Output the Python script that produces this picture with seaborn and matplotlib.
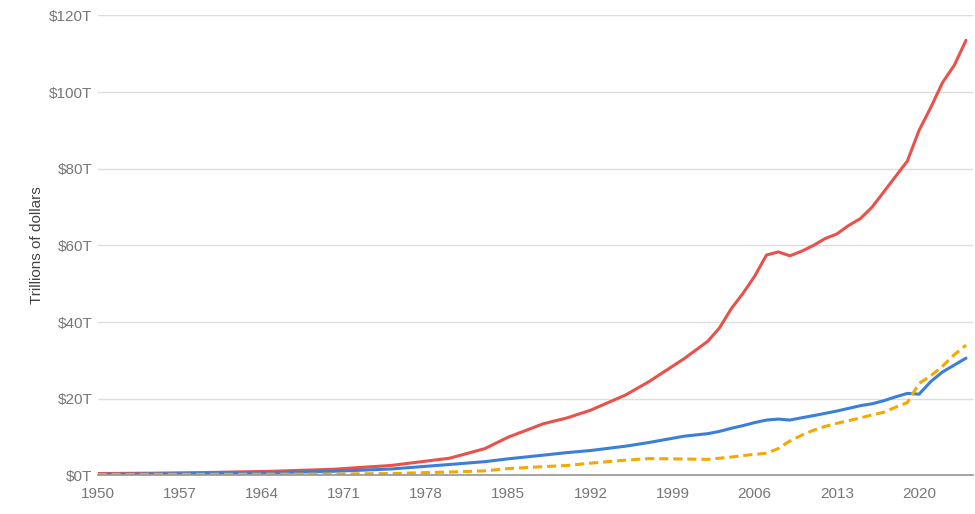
import numpy as np
import pandas as pd
import matplotlib
matplotlib.use("Agg")
import matplotlib.pyplot as plt
import seaborn as sns

years = [1950, 1955, 1960, 1965, 1970, 1975, 1980, 1983, 1985, 1988, 1990, 1992, 1995, 1997,
         2000, 2002, 2003, 2004, 2005, 2006, 2007, 2008, 2009, 2010, 2011, 2012, 2013, 2014,
         2015, 2016, 2017, 2018, 2019, 2020, 2021, 2022, 2023, 2024]
total_debt = [0.5, 0.6, 0.8, 1.1, 1.6, 2.6, 4.5, 7.0, 10.0, 13.5, 15.0, 17.0, 21.0, 24.5,
              30.5, 35.0, 38.5, 43.5, 47.5, 52.0, 57.5, 58.3, 57.3, 58.5, 60.0, 61.8, 63.0, 65.2,
              67.0, 70.0, 74.0, 78.0, 82.0, 90.0, 96.0, 102.5, 107.0, 113.5]
gdp = [0.3, 0.4, 0.54, 0.74, 1.07, 1.68, 2.86, 3.6, 4.34, 5.3, 5.96, 6.5, 7.64, 8.6,
       10.25, 10.9, 11.5, 12.3, 13.0, 13.8, 14.45, 14.7, 14.45, 15.05, 15.6, 16.2, 16.8, 17.5,
       18.2, 18.7, 19.5, 20.5, 21.4, 21.2, 24.5, 27.0, 28.8, 30.6]
fed_debt = [0.26, 0.27, 0.29, 0.32, 0.37, 0.5, 0.9, 1.2, 1.8, 2.3, 2.6, 3.2, 4.0, 4.4,
            4.3, 4.2, 4.5, 4.8, 5.2, 5.5, 5.8, 7.0, 9.0, 10.5, 11.8, 12.8, 13.6, 14.3,
            15.0, 15.8, 16.5, 17.8, 19.0, 24.0, 26.0, 28.5, 31.5, 34.0]

df = pd.DataFrame({"year": years, "total": total_debt, "gdp": gdp, "fed": fed_debt})

sns.set_theme(style="white")
plt.rcParams['font.family'] = ['Liberation Sans', 'DejaVu Sans']
fig, ax = plt.subplots(figsize=(9.75, 5.14), dpi=100)
fig.subplots_adjust(left=0.1, right=0.998, top=0.97, bottom=0.075)

sns.lineplot(data=df, x="year", y="total", ax=ax, color="#e8524a", linewidth=2.2)
sns.lineplot(data=df, x="year", y="gdp", ax=ax, color="#3b7fdb", linewidth=2.2)
sns.lineplot(data=df, x="year", y="fed", ax=ax, color="#f4a900", linewidth=2.2, linestyle=(0, (3, 1.6)))

ax.set_xlim(1950, 2024.6)
ax.set_ylim(0, 120)
ax.set_yticks(range(0, 121, 20))
ax.set_yticklabels([f"${v}T" for v in range(0, 121, 20)])
ax.set_xticks(range(1950, 2021, 7))
ax.yaxis.grid(True, color="#dddddd", linewidth=1)
ax.xaxis.grid(False)
for s in ["top", "right", "left"]:
    ax.spines[s].set_visible(False)
ax.spines["bottom"].set_color("#999999")
ax.tick_params(colors="#777777", labelsize=11, length=0)
ax.tick_params(axis="x", length=5, color="#999999")
ax.set_xlabel("")
ax.set_ylabel("Trillions of dollars", color="#444444", fontsize=11)

fig.savefig("out.png", dpi=100)
